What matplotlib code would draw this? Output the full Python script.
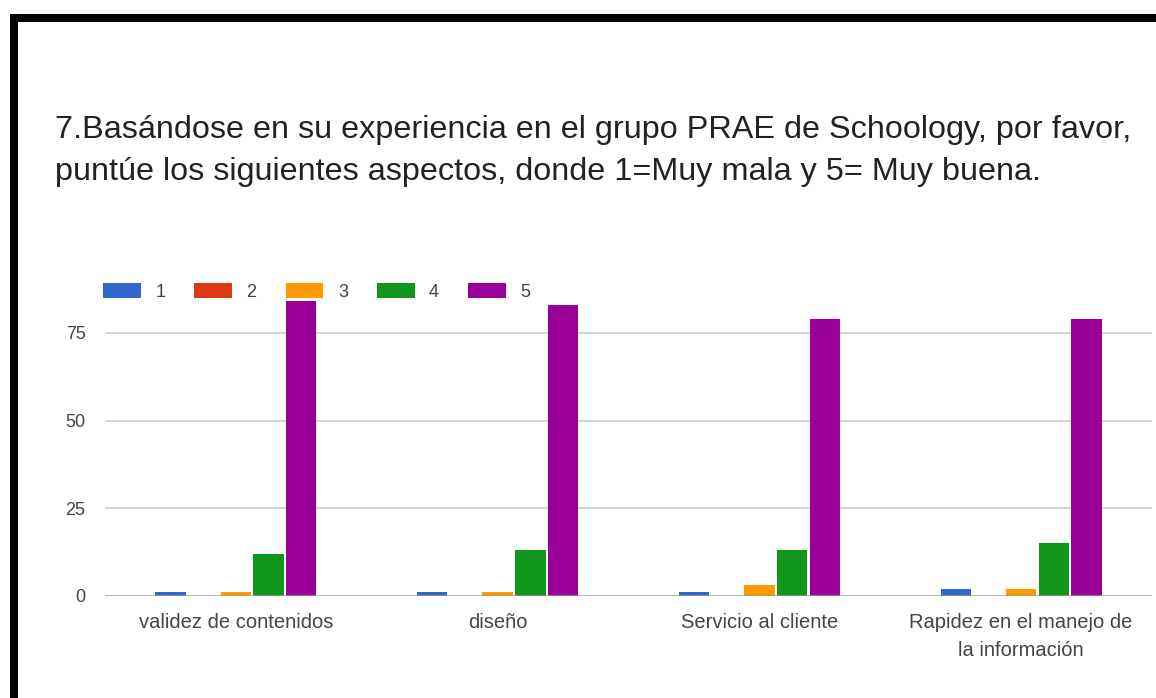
import matplotlib
matplotlib.use("Agg")
import matplotlib.pyplot as plt
from matplotlib.patches import Rectangle
import numpy as np

plt.rcParams['font.family'] = ['Liberation Sans', 'DejaVu Sans']

title = ("7.Basándose en su experiencia en el grupo PRAE de Schoology, por favor,\n"
         "puntúe los siguientes aspectos, donde 1=Muy mala y 5= Muy buena.")
categories = ["validez de contenidos", "diseño", "Servicio al cliente",
              "Rapidez en el manejo de\nla información"]
series_names = ["1", "2", "3", "4", "5"]
s1 = [1, 1, 1, 2]
s2 = [0, 0, 0, 0]
s3 = [1, 1, 3, 2]
s4 = [12, 13, 13, 15]
s5 = [84, 83, 79, 79]
series = [s1, s2, s3, s4, s5]
colors = ["#3366cc", "#dc3912", "#ff9900", "#109618", "#990099"]
yticks = [0, 25, 50, 75]

W, H = 1156, 698
fig = plt.figure(figsize=(W / 100, H / 100), dpi=100)

ymax = 86
px_per_unit = 3.507
y0 = 596
ytop = y0 - ymax * px_per_unit
ax = fig.add_axes([105 / W, 1 - y0 / H, (1152 - 105) / W, (y0 - ytop) / H])

x = np.arange(len(categories))
slot = 0.125
bw = 0.116
for i, (vals, c, name) in enumerate(zip(series, colors, series_names)):
    ax.bar(x + (i - 2) * slot, vals, width=bw, color=c, label=name, zorder=3)

ax.set_xlim(-0.5, len(categories) - 0.5)
ax.set_ylim(0, ymax)
ax.set_yticks(yticks)
ax.set_yticklabels([str(t) for t in yticks])
ax.set_xticks(x)
ax.set_xticklabels(categories, linespacing=1.6)
ax.tick_params(axis='both', length=0, labelsize=13, labelcolor='#444444')
ax.tick_params(axis='x', pad=12, labelsize=14.5)
ax.tick_params(axis='y', pad=14)
for t in yticks[1:]:
    ax.axhline(t, color='#cccccc', lw=1.2, zorder=1)
ax.axhline(0, color='#999999', lw=1.8, zorder=4)
for s in ax.spines.values():
    s.set_visible(False)

leg = ax.legend(ncol=5, loc='center left', bbox_to_anchor=(103 / W, 1 - 292 / H),
                bbox_transform=fig.transFigure, frameon=False, fontsize=13,
                handlelength=2.1, handleheight=0.9, handletextpad=0.8,
                columnspacing=1.6, borderpad=0, borderaxespad=0)
for t in leg.get_texts():
    t.set_color('#444444')

fig.text(55 / W, 1 - 151 / H, title, fontsize=23.3, color='#222222',
         ha='left', va='center', linespacing=1.5)

# black frame (top and left)
fig.add_artist(Rectangle((10 / W, 0), 8 / W, 1 - 14 / H, transform=fig.transFigure,
                         color='black', lw=0))
fig.add_artist(Rectangle((10 / W, 1 - 22 / H), 1 - 10 / W, 8 / H, transform=fig.transFigure,
                         color='black', lw=0))

fig.savefig("out.png", dpi=100)
